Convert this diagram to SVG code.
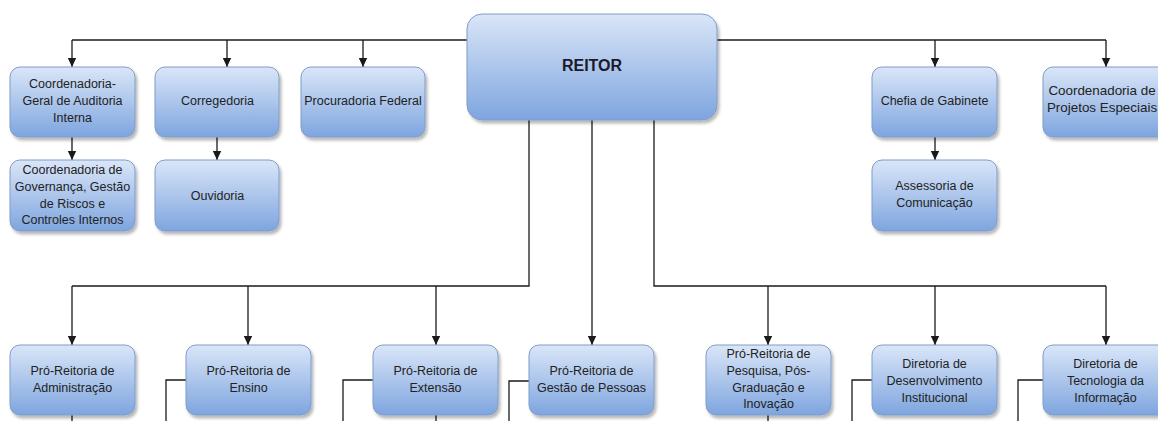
<svg xmlns="http://www.w3.org/2000/svg" width="1158" height="421" viewBox="0 0 1158 421">
<style>
.box{fill:url(#g);stroke:#7f9cc8;stroke-width:1;filter:url(#sh)}
.t{font-family:"Liberation Sans",Arial,sans-serif;font-size:12.5px;fill:#222;text-anchor:middle}
.tl{font-size:13.4px}
.tb{font-family:"Liberation Sans",Arial,sans-serif;font-size:16px;font-weight:bold;fill:#1a1a2a;text-anchor:middle}
.c{fill:none;stroke:#1a1a1a;stroke-width:1.3}
.a{fill:none;stroke:#1a1a1a;stroke-width:1.3;marker-end:url(#ah)}
</style>
<defs>
<linearGradient id="g" x1="0" y1="0" x2="0" y2="1">
<stop offset="0" stop-color="#dae6f8"/>
<stop offset="1" stop-color="#7ea5df"/>
</linearGradient>
<filter id="sh" x="-10%" y="-10%" width="130%" height="140%">
<feDropShadow dx="2" dy="3" stdDeviation="1.5" flood-color="#000" flood-opacity="0.28"/>
</filter>
<marker id="ah" markerWidth="10" markerHeight="10" refX="9" refY="5" orient="auto" markerUnits="userSpaceOnUse">
<path d="M0,0.8 L9,5 L0,9.2 Z" fill="#1a1a1a"/>
</marker>
</defs>
<rect width="1158" height="421" fill="#fff"/>
<g id="connectors">
<path class="c" d="M72,40 H467"/>
<path class="a" d="M72,40 V67"/>
<path class="a" d="M227,40 V67"/>
<path class="a" d="M363,40 V67"/>
<path class="c" d="M717,40 H1106"/>
<path class="a" d="M935,40 V67"/>
<path class="a" d="M1106,40 V67"/>
<path class="a" d="M72,137 V160"/>
<path class="a" d="M217,137 V160"/>
<path class="a" d="M935,137 V160"/>
<path class="c" d="M529,120 V286 H72"/>
<path class="a" d="M72,286 V345"/>
<path class="a" d="M248,286 V345"/>
<path class="a" d="M436,286 V345"/>
<path class="a" d="M592,120 V345"/>
<path class="c" d="M654,120 V286 H1106"/>
<path class="a" d="M768,286 V345"/>
<path class="a" d="M935,286 V345"/>
<path class="a" d="M1106,286 V345"/>
<path class="c" d="M72,415 V421"/>
<path class="c" d="M186,380 H166 V421"/>
<path class="c" d="M373,380 H343 V421"/>
<path class="c" d="M436,415 V421"/>
<path class="c" d="M529,381 H509 V421"/>
<path class="c" d="M768,415 V421"/>
<path class="c" d="M872,380 H852 V421"/>
<path class="c" d="M1043,380 H1018 V421"/>
</g>
<g id="reitor"><rect class="box" x="467" y="14" width="250" height="106" rx="15"/><text class="tb" x="592" y="71">REITOR</text></g>
<g id="auditoria"><rect class="box" x="10" y="67" width="125" height="70" rx="10"/><text class="t" x="72.5" y="87.5">Coordenadoria-</text><text class="t" x="72.5" y="104.5">Geral de Auditoria</text><text class="t" x="72.5" y="121.5">Interna</text></g>
<g id="corregedoria"><rect class="box" x="155" y="67" width="124" height="70" rx="10"/><text class="t" x="217.5" y="104.5">Corregedoria</text></g>
<g id="procuradoria"><rect class="box" x="301" y="67" width="124" height="70" rx="10"/><text class="t" x="363" y="104.5">Procuradoria Federal</text></g>
<g id="chefia"><rect class="box" x="872" y="67" width="125" height="70" rx="10"/><text class="t" x="934.5" y="104.5">Chefia de Gabinete</text></g>
<g id="projetos"><rect class="box" x="1043" y="67" width="125" height="70" rx="10"/><text class="t tl" x="1102" y="94.5">Coordenadoria de</text><text class="t tl" x="1102" y="111.5">Projetos Especiais</text></g>
<g id="governanca"><rect class="box" x="10" y="160" width="125" height="71" rx="10"/><text class="t" x="72.5" y="173.5">Coordenadoria de</text><text class="t" x="72.5" y="190.5">Governança, Gestão</text><text class="t" x="72.5" y="207.5">de Riscos e</text><text class="t" x="72.5" y="223.5">Controles Internos</text></g>
<g id="ouvidoria"><rect class="box" x="155" y="160" width="124" height="71" rx="10"/><text class="t" x="217.5" y="199.5">Ouvidoria</text></g>
<g id="assessoria"><rect class="box" x="872" y="160" width="125" height="71" rx="10"/><text class="t" x="934.5" y="189.5">Assessoria de</text><text class="t" x="934.5" y="206.5">Comunicação</text></g>
<g id="administracao"><rect class="box" x="10" y="345" width="125" height="70" rx="10"/><text class="t" x="72.5" y="374.5">Pró-Reitoria de</text><text class="t" x="72.5" y="391.5">Administração</text></g>
<g id="ensino"><rect class="box" x="186" y="345" width="125" height="70" rx="10"/><text class="t" x="248.5" y="374.5">Pró-Reitoria de</text><text class="t" x="248.5" y="391.5">Ensino</text></g>
<g id="extensao"><rect class="box" x="373" y="345" width="125" height="70" rx="10"/><text class="t" x="435.5" y="374.5">Pró-Reitoria de</text><text class="t" x="435.5" y="391.5">Extensão</text></g>
<g id="pessoas"><rect class="box" x="529" y="345" width="125" height="70" rx="10"/><text class="t" x="591.5" y="374.5">Pró-Reitoria de</text><text class="t" x="591.5" y="391.5">Gestão de Pessoas</text></g>
<g id="pesquisa"><rect class="box" x="706" y="345" width="125" height="70" rx="10"/><text class="t" x="768.5" y="357.5">Pró-Reitoria de</text><text class="t" x="768.5" y="374.5">Pesquisa, Pós-</text><text class="t" x="768.5" y="391.5">Graduação e</text><text class="t" x="768.5" y="407.5">Inovação</text></g>
<g id="desenvolvimento"><rect class="box" x="872" y="345" width="125" height="70" rx="10"/><text class="t" x="934.5" y="367.5">Diretoria de</text><text class="t" x="934.5" y="384.5">Desenvolvimento</text><text class="t" x="934.5" y="401.5">Institucional</text></g>
<g id="tecnologia"><rect class="box" x="1043" y="345" width="125" height="70" rx="10"/><text class="t" x="1105.5" y="367.5">Diretoria de</text><text class="t" x="1105.5" y="384.5">Tecnologia da</text><text class="t" x="1105.5" y="401.5">Informação</text></g>
</svg>
